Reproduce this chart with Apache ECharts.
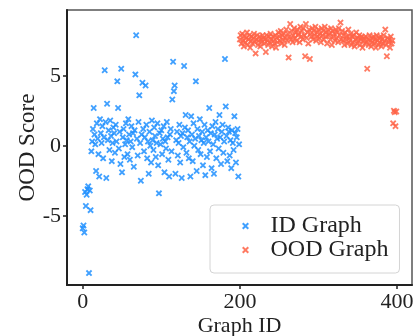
<!DOCTYPE html>
<html>
<head>
<meta charset="utf-8">
<script src="https://cdn.jsdelivr.net/npm/echarts@6/dist/echarts.min.js"></script>
<style>
  html, body { margin: 0; padding: 0; background: #fff; }
  #chart { width: 414px; height: 336px; }
</style>
</head>
<body>
<div id="chart"></div>
<script>
// OOD score per graph, ID graphs are 0..199, OOD graphs are 200..399
const idStart = 0;
const idScores = [
  -5.9, -5.7, -6.2, -3.3, -4.3, -3.5, -3.1, -2.9, -9.1, -3.2,
  -4.6, -0.4, 0.3, 1.2, 2.7, 0.8, 0.1, -1.8, 1.6, 0.5,
  -0.6, -2.2, 1.9, 0.9, 0.2, 1.4, -0.9, 0.6, 5.4, 1.7,
  -2.3, 3.0, 0.4, 1.1, -0.3, 1.8, 0.7, -1.1, 0.2, 1.3,
  0.9, -0.5, 1.5, 0.3, 4.6, 2.7, -0.2, 1.0, -1.3, 5.5,
  -1.9, 0.6, 1.2, -0.8, 0.1, 1.6, 0.4, -0.6, 1.9, 0.8,
  -1.0, 0.3, 1.4, -0.1, 0.9, -1.5, 1.1, 5.1, 7.9, 0.5,
  -0.7, 1.7, 3.6, 0.2, -2.5, 0.8, 4.5, 1.2, -0.4, 0.6,
  4.3, 1.5, -0.9, 0.3, -2.0, 1.0, 0.0, -1.2, 1.8, 0.4,
  -0.3, 1.3, 0.7, -0.8, 0.2, 1.6, -1.4, -3.4, 0.9, 0.1,
  1.1, -0.6, 0.5, 1.4, -1.9, 0.3, -0.2, 1.7, 0.6, -1.0,
  -2.2, 0.8, 1.2, -0.4, 3.3, 6.0, 3.9, 4.3, -2.0, 0.4,
  1.0, -0.7, 0.2, 1.5, -1.2, 0.7, -2.3, 0.9, -0.1, 5.7,
  1.3, 2.2, -0.5, 0.6, 1.1, -0.9, 0.3, -2.2, 2.1, 0.8,
  -1.1, 1.6, 0.0, 0.5, 4.6, -1.8, 1.2, -0.3, 0.7, 1.9,
  -0.6, 0.4, 1.0, -1.4, 0.2, 1.5, -2.1, 0.6, -0.8, 1.1,
  0.3, 2.7, -0.4, 0.9, -1.6, 1.4, 0.1, -2.0, 0.8, 1.7,
  -0.9, 0.5, 1.2, -0.2, 2.2, 0.6, -1.3, 1.0, 1.5, -0.5,
  0.3, 6.2, 2.8, 0.7, -1.1, 1.3, 1.0, -0.7, 0.4, -1.6,
  1.1, 0.2, -0.3, 2.1, 0.9, -1.2, 0.6, 1.2, -2.2, 0.1
];
const oodStart = 200;
const oodScores = [
  7.6, 7.9, 7.3, 8.0, 7.5, 7.1, 7.8, 7.4, 7.7, 8.1,
  7.2, 7.6, 7.9, 7.0, 7.5, 7.8, 7.3, 7.7, 8.0, 7.4,
  6.6, 7.6, 7.9, 7.2, 7.5, 7.8, 7.1, 7.6, 7.4, 7.9,
  7.7, 7.3, 7.6, 6.7, 7.9, 7.5, 7.2, 7.8, 7.4, 8.0,
  7.6, 7.1, 7.8, 7.5, 7.3, 7.9, 7.0, 7.7, 7.4, 8.1,
  7.8, 7.5, 8.2, 7.3, 7.9, 7.6, 8.0, 7.2, 7.7, 8.3,
  7.5, 8.0, 6.3, 7.8, 8.7, 7.6, 8.2, 7.4, 7.9, 8.4,
  7.7, 8.1, 7.5, 8.3, 7.9, 8.0, 7.4, 8.5, 7.8, 8.2,
  7.6, 8.4, 7.9, 6.4, 8.7, 7.7, 8.1, 7.3, 8.3, 6.2,
  8.0, 7.8, 8.4, 7.6, 8.2, 7.9, 8.5, 7.5, 8.1, 7.8,
  8.3, 7.7, 8.0, 7.4, 8.4, 7.9, 8.2, 7.6, 8.5, 7.8,
  8.1, 7.3, 8.3, 7.9, 8.0, 7.6, 8.4, 7.2, 8.2, 7.8,
  8.0, 7.5, 8.3, 7.7, 8.1, 7.4, 8.4, 7.9, 8.8, 7.6,
  8.2, 7.5, 7.9, 7.2, 8.1, 7.6, 7.8, 7.3, 8.3, 7.7,
  7.5, 8.0, 7.2, 7.8, 7.4, 7.9, 7.1, 7.6, 8.1, 7.3,
  7.7, 7.5, 7.9, 7.2, 7.6, 7.8, 7.0, 7.5, 7.7, 7.3,
  7.8, 7.4, 5.5, 7.6, 7.2, 7.9, 7.5, 7.1, 7.7, 7.4,
  7.8, 7.3, 7.6, 7.0, 7.9, 7.5, 7.2, 7.7, 7.4, 7.8,
  7.1, 7.6, 7.3, 7.9, 7.5, 8.3, 7.2, 6.4, 7.7, 7.4,
  7.6, 7.0, 7.8, 7.3, 7.5, 1.6, 2.5, 2.4, 1.4, 2.45
];
const xTicks = [0, 200, 400];
const yTicks = [-5, 0, 5];
const seriesNames = ['ID Graph', 'OOD Graph'];

const font = 'Liberation Serif';
const crossPath = 'path://M0,2L2,0L5,3L8,0L10,2L7,5L10,8L8,10L5,7L2,10L0,8L3,5Z';

function toPoints(start, scores) {
  return scores.map((v, i) => [start + i, v]);
}

const chart = echarts.init(document.getElementById('chart'), null, {renderer: 'canvas'});

const option = {
  animation: false,
  backgroundColor: '#fff',
  grid: {
    left: 67, right: 2, top: 10, bottom: 51,
    outerBoundsMode: 'none',
    containLabel: false,
    show: true,
    borderColor: '#555',
    borderWidth: 1.5,
    backgroundColor: 'transparent'
  },
  legend: {
    orient: 'vertical',
    left: 210,
    top: 205,
    padding: [9, 11, 11, 32],
    itemWidth: 40,
    itemHeight: 7,
    itemGap: 0,
    icon: crossPath,
    backgroundColor: 'rgba(255,255,255,0.85)',
    borderColor: '#d4d4d4',
    borderWidth: 1,
    borderRadius: 4,
    textStyle: {fontFamily: font, fontSize: 24, color: '#222', lineHeight: 24},
    data: seriesNames
  },
  xAxis: {
    type: 'value',
    min: -20,
    max: 419,
    name: 'Graph ID',
    nameLocation: 'middle',
    nameGap: 30,
    nameMoveOverlap: false,
    nameTextStyle: {fontFamily: font, fontSize: 22, color: '#222'},
    axisLine: {onZero: false, lineStyle: {color: '#222', width: 2}},
    axisTick: {show: true, length: 4, customValues: xTicks, lineStyle: {color: '#222', width: 1.5}},
    axisLabel: {customValues: xTicks, margin: 6, fontFamily: font, fontSize: 22, color: '#222'},
    splitLine: {show: false}
  },
  yAxis: {
    type: 'value',
    min: -9.95,
    max: 9.7,
    name: 'OOD Score',
    nameLocation: 'middle',
    nameGap: 28,
    nameMoveOverlap: false,
    nameTextStyle: {fontFamily: font, fontSize: 23, color: '#222'},
    axisLine: {onZero: false, lineStyle: {color: '#222', width: 2}},
    axisTick: {show: true, length: 4, customValues: yTicks, lineStyle: {color: '#222', width: 1.5}},
    axisLabel: {customValues: yTicks, margin: 6, fontFamily: font, fontSize: 22, color: '#222'},
    splitLine: {show: false}
  },
  series: [
    {
      name: seriesNames[0],
      type: 'scatter',
      symbol: crossPath,
      symbolSize: 6.5,
      itemStyle: {color: '#1e8fff', opacity: 0.85},
      data: toPoints(idStart, idScores)
    },
    {
      name: seriesNames[1],
      type: 'scatter',
      symbol: crossPath,
      symbolSize: 6.5,
      itemStyle: {color: '#ff6347', opacity: 0.85},
      data: toPoints(oodStart, oodScores)
    }
  ]
};

chart.setOption(option);
</script>
</body>
</html>
